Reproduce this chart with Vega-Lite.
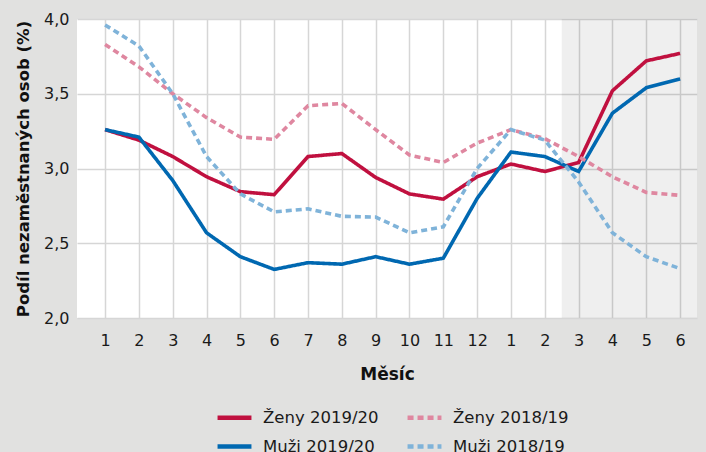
{
  "$schema": "https://vega.github.io/schema/vega-lite/v6.json",
  "width": 620,
  "height": 299,
  "autosize": {"type": "none"},
  "padding": {"left": 77, "top": 19, "right": 9, "bottom": 134},
  "background": "#e1e1e0",
  "config": {
    "view": {"fill": "white", "stroke": null},
    "font": "DejaVu Sans",
    "axis": {"labelFont": "DejaVu Sans", "titleFont": "DejaVu Sans", "labelColor": "#1a1a1a", "titleColor": "#111", "gridColor": "#d6d6d6", "gridWidth": 1.5, "domain": false, "ticks": false},
    "legend": {"labelFont": "DejaVu Sans"}
  },
  "datasets": {
    "shade": [{"idx": 14.5, "idx_end": 18.5}],
    "rows": [
      {"idx": 1, "serie": "Ženy 2019/20", "v": 3.26}, {"idx": 2, "serie": "Ženy 2019/20", "v": 3.19}, {"idx": 3, "serie": "Ženy 2019/20", "v": 3.08}, {"idx": 4, "serie": "Ženy 2019/20", "v": 2.945}, {"idx": 5, "serie": "Ženy 2019/20", "v": 2.845}, {"idx": 6, "serie": "Ženy 2019/20", "v": 2.825}, {"idx": 7, "serie": "Ženy 2019/20", "v": 3.08}, {"idx": 8, "serie": "Ženy 2019/20", "v": 3.10}, {"idx": 9, "serie": "Ženy 2019/20", "v": 2.94}, {"idx": 10, "serie": "Ženy 2019/20", "v": 2.83}, {"idx": 11, "serie": "Ženy 2019/20", "v": 2.795}, {"idx": 12, "serie": "Ženy 2019/20", "v": 2.945}, {"idx": 13, "serie": "Ženy 2019/20", "v": 3.03}, {"idx": 14, "serie": "Ženy 2019/20", "v": 2.98}, {"idx": 15, "serie": "Ženy 2019/20", "v": 3.04}, {"idx": 16, "serie": "Ženy 2019/20", "v": 3.52}, {"idx": 17, "serie": "Ženy 2019/20", "v": 3.72}, {"idx": 18, "serie": "Ženy 2019/20", "v": 3.77},
      {"idx": 1, "serie": "Muži 2019/20", "v": 3.26}, {"idx": 2, "serie": "Muži 2019/20", "v": 3.21}, {"idx": 3, "serie": "Muži 2019/20", "v": 2.92}, {"idx": 4, "serie": "Muži 2019/20", "v": 2.57}, {"idx": 5, "serie": "Muži 2019/20", "v": 2.41}, {"idx": 6, "serie": "Muži 2019/20", "v": 2.325}, {"idx": 7, "serie": "Muži 2019/20", "v": 2.37}, {"idx": 8, "serie": "Muži 2019/20", "v": 2.36}, {"idx": 9, "serie": "Muži 2019/20", "v": 2.41}, {"idx": 10, "serie": "Muži 2019/20", "v": 2.36}, {"idx": 11, "serie": "Muži 2019/20", "v": 2.40}, {"idx": 12, "serie": "Muži 2019/20", "v": 2.80}, {"idx": 13, "serie": "Muži 2019/20", "v": 3.11}, {"idx": 14, "serie": "Muži 2019/20", "v": 3.08}, {"idx": 15, "serie": "Muži 2019/20", "v": 2.98}, {"idx": 16, "serie": "Muži 2019/20", "v": 3.37}, {"idx": 17, "serie": "Muži 2019/20", "v": 3.54}, {"idx": 18, "serie": "Muži 2019/20", "v": 3.60},
      {"idx": 1, "serie": "Ženy 2018/19", "v": 3.83}, {"idx": 2, "serie": "Ženy 2018/19", "v": 3.68}, {"idx": 3, "serie": "Ženy 2018/19", "v": 3.50}, {"idx": 4, "serie": "Ženy 2018/19", "v": 3.34}, {"idx": 5, "serie": "Ženy 2018/19", "v": 3.21}, {"idx": 6, "serie": "Ženy 2018/19", "v": 3.195}, {"idx": 7, "serie": "Ženy 2018/19", "v": 3.42}, {"idx": 8, "serie": "Ženy 2018/19", "v": 3.435}, {"idx": 9, "serie": "Ženy 2018/19", "v": 3.26}, {"idx": 10, "serie": "Ženy 2018/19", "v": 3.09}, {"idx": 11, "serie": "Ženy 2018/19", "v": 3.04}, {"idx": 12, "serie": "Ženy 2018/19", "v": 3.17}, {"idx": 13, "serie": "Ženy 2018/19", "v": 3.26}, {"idx": 14, "serie": "Ženy 2018/19", "v": 3.20}, {"idx": 15, "serie": "Ženy 2018/19", "v": 3.08}, {"idx": 16, "serie": "Ženy 2018/19", "v": 2.945}, {"idx": 17, "serie": "Ženy 2018/19", "v": 2.84}, {"idx": 18, "serie": "Ženy 2018/19", "v": 2.82},
      {"idx": 1, "serie": "Muži 2018/19", "v": 3.96}, {"idx": 2, "serie": "Muži 2018/19", "v": 3.82}, {"idx": 3, "serie": "Muži 2018/19", "v": 3.50}, {"idx": 4, "serie": "Muži 2018/19", "v": 3.08}, {"idx": 5, "serie": "Muži 2018/19", "v": 2.83}, {"idx": 6, "serie": "Muži 2018/19", "v": 2.71}, {"idx": 7, "serie": "Muži 2018/19", "v": 2.73}, {"idx": 8, "serie": "Muži 2018/19", "v": 2.68}, {"idx": 9, "serie": "Muži 2018/19", "v": 2.675}, {"idx": 10, "serie": "Muži 2018/19", "v": 2.57}, {"idx": 11, "serie": "Muži 2018/19", "v": 2.61}, {"idx": 12, "serie": "Muži 2018/19", "v": 3.00}, {"idx": 13, "serie": "Muži 2018/19", "v": 3.26}, {"idx": 14, "serie": "Muži 2018/19", "v": 3.19}, {"idx": 15, "serie": "Muži 2018/19", "v": 2.91}, {"idx": 16, "serie": "Muži 2018/19", "v": 2.57}, {"idx": 17, "serie": "Muži 2018/19", "v": 2.41}, {"idx": 18, "serie": "Muži 2018/19", "v": 2.33}
    ]
  },
  "encoding": {
    "x": {
      "field": "idx", "type": "quantitative",
      "scale": {"domain": [0.17, 18.5], "nice": false, "zero": false},
      "axis": {
        "values": [1, 2, 3, 4, 5, 6, 7, 8, 9, 10, 11, 12, 13, 14, 15, 16, 17, 18],
        "labelExpr": "datum.value > 12 ? datum.value - 12 : datum.value",
        "labelOverlap": false,
        "labelFontSize": 16, "labelPadding": 14, "labelFlush": false,
        "title": "Měsíc", "titleFontSize": 17, "titleFontWeight": "bold", "titlePadding": 18
      }
    }
  },
  "layer": [
    {
      "data": {"name": "shade"},
      "mark": {"type": "rect", "color": "#000", "opacity": 0.062},
      "encoding": {
        "x2": {"field": "idx_end"}
      }
    },
    {
      "data": {"name": "rows"},
      "mark": {"type": "line", "strokeWidth": 3.6},
      "encoding": {
        "y": {
          "field": "v", "type": "quantitative",
          "scale": {"domain": [2, 4], "nice": false, "zero": false},
          "axis": {
            "values": [2, 2.5, 3, 3.5, 4],
            "labelExpr": "replace(format(datum.value, '.1f'), '.', ',')",
            "labelFontSize": 16, "labelPadding": 8,
            "title": "Podíl nezaměstnaných osob (%)", "titleFontSize": 16.5, "titleFontWeight": "bold", "titlePadding": 12
          }
        },
        "color": {
          "field": "serie", "type": "nominal",
          "scale": {"domain": ["Ženy 2019/20", "Ženy 2018/19", "Muži 2019/20", "Muži 2018/19"], "range": ["#c0103f", "#df87a0", "#0068b1", "#7fb3d9"]},
          "legend": {
            "orient": "none", "legendX": 138, "legendY": 379, "direction": "horizontal", "columns": 2,
            "title": null, "labelFontSize": 16.5, "labelColor": "#1a1a1a", "symbolType": "stroke", "symbolSize": 1150, "symbolStrokeWidth": 4.5,
            "columnPadding": 19, "rowPadding": 0, "labelOffset": 9
          }
        },
        "strokeDash": {
          "field": "serie", "type": "nominal",
          "scale": {"domain": ["Ženy 2019/20", "Ženy 2018/19", "Muži 2019/20", "Muži 2018/19"], "range": [[1, 0], [6, 4], [1, 0], [6, 4]]}
        }
      }
    }
  ]
}
